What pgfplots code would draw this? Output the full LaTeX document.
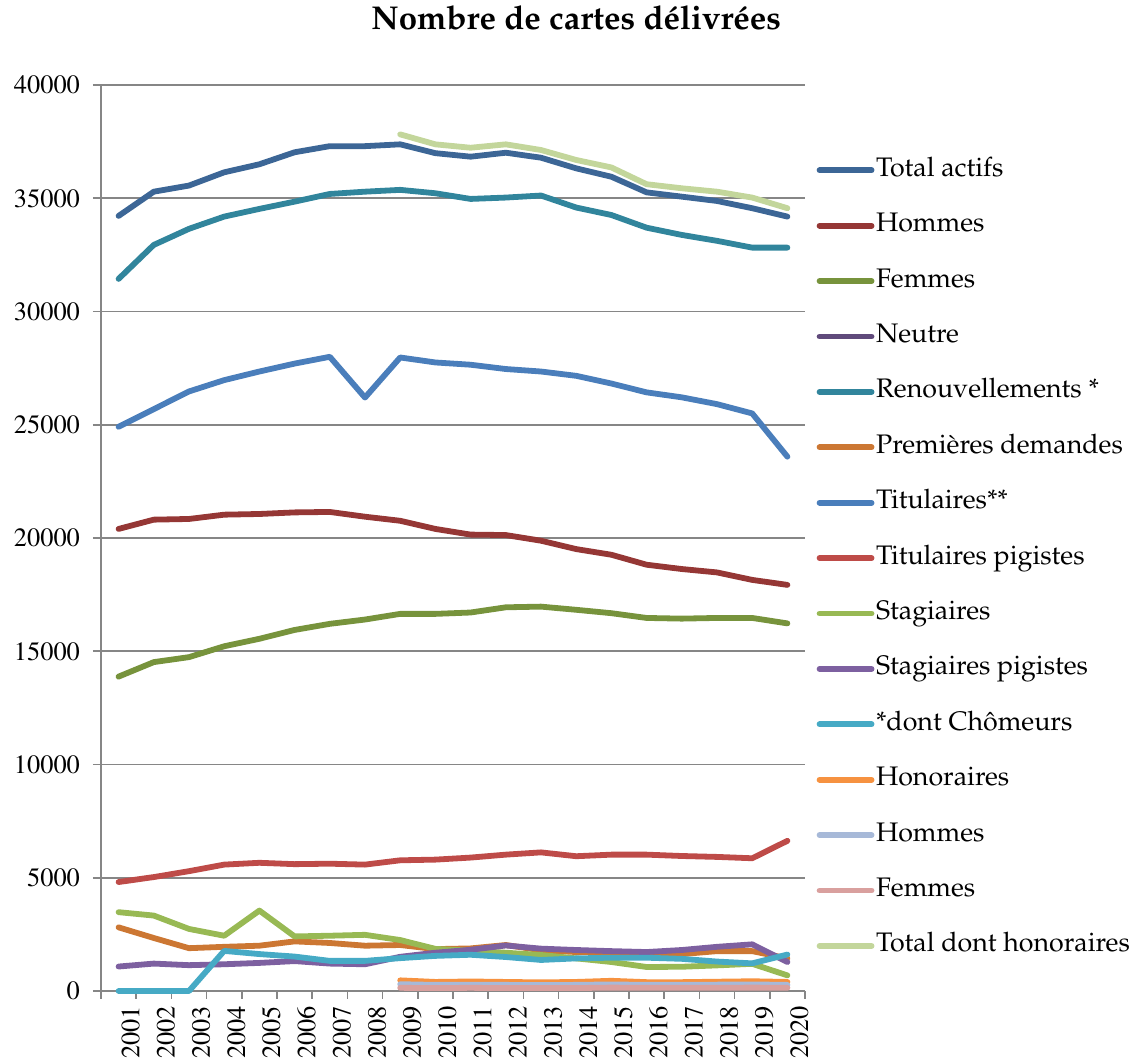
\documentclass[border=0pt]{standalone}
\usepackage[T1]{fontenc}
\usepackage{mathpazo}
\usepackage{pgfplots}
\usepackage{pgfplotstable}
\pgfplotsset{compat=1.18}

\definecolor{cta}{HTML}{3C6696}
\definecolor{cho}{HTML}{953735}
\definecolor{cfe}{HTML}{77933C}
\definecolor{cne}{HTML}{604A7B}
\definecolor{cre}{HTML}{31859C}
\definecolor{cpd}{HTML}{CC7733}
\definecolor{cti}{HTML}{4A7EBB}
\definecolor{ctp}{HTML}{BE4B48}
\definecolor{cst}{HTML}{98B954}
\definecolor{csp}{HTML}{7D60A0}
\definecolor{cch}{HTML}{46AAC5}
\definecolor{chn}{HTML}{F69240}
\definecolor{chh}{HTML}{A7B9D8}
\definecolor{chf}{HTML}{D9A09E}
\definecolor{ctd}{HTML}{C3D69B}
\definecolor{grille}{HTML}{868686}

% annees 2001..2020 en 1..20
\pgfplotstableread{
x  ta    ho    fe    re    pd   ti    tp   st   sp   ch   hn  hh  hf  td
1  34220 20400 13880 31440 2810 24910 4810 3480 1080 0    nan nan nan nan
2  35290 20810 14520 32940 2340 25690 5030 3330 1210 0    nan nan nan nan
3  35560 20840 14740 33650 1890 26470 5290 2740 1140 0    nan nan nan nan
4  36145 21030 15220 34190 1950 26970 5580 2440 1180 1770 nan nan nan nan
5  36500 21060 15550 34530 2000 27350 5660 3550 1240 1630 nan nan nan nan
6  37030 21130 15940 34850 2190 27700 5600 2410 1320 1520 nan nan nan nan
7  37300 21150 16210 35190 2120 28000 5620 2440 1210 1330 nan nan nan nan
8  37300 20940 16400 35290 2000 26200 5580 2480 1180 1330 nan nan nan nan
9  37380 20760 16650 35370 2030 27970 5770 2250 1510 1450 470 300 140 37820
10 36990 20400 16650 35220 1850 27750 5800 1860 1690 1550 400 270 130 37380
11 36835 20150 16710 34970 1880 27650 5890 1780 1820 1600 420 280 140 37230
12 37010 20130 16940 35030 2030 27460 6020 1690 2010 1500 400 270 130 37380
13 36790 19880 16970 35120 1800 27350 6120 1590 1870 1370 380 260 130 37130
14 36320 19510 16830 34590 1720 27160 5950 1440 1810 1440 400 270 130 36690
15 35950 19260 16680 34260 1720 26820 6020 1280 1760 1470 450 290 150 36360
16 35260 18820 16470 33700 1690 26430 6020 1060 1720 1470 390 270 140 35620
17 35070 18630 16440 33380 1630 26210 5960 1070 1810 1420 390 270 140 35440
18 34880 18480 16470 33120 1760 25910 5920 1130 1950 1300 410 280 140 35290
19 34560 18150 16470 32820 1760 25500 5860 1200 2060 1220 430 290 150 35030
20 34190 17930 16230 32820 1440 23590 6630 690  1280 1610 400 270 140 34560
}\cartes

\newcommand{\tickfont}{\fontfamily{ptm}\selectfont\fontsize{13.2}{13.2}\selectfont}

\begin{document}
\begin{tikzpicture}
\useasboundingbox (-50.5pt,-35pt) rectangle (515.5pt,495.5pt);
\begin{axis}[
    at={(0,0)}, anchor=south west,
    scale only axis,
    width=352pt, height=453pt,
    xmin=0.5, xmax=20.5,
    ymin=0, ymax=40000,
    clip=false,
    axis lines*=left,
    axis line style={grille, line width=0.8pt},
    ytick={0,5000,...,40000},
    scaled y ticks=false,
    ymajorgrids,
    major grid style={grille, line width=0.8pt},
    xtick={1,...,20},
    xticklabels={2001,2002,2003,2004,2005,2006,2007,2008,2009,2010,2011,2012,2013,2014,2015,2016,2017,2018,2019,2020},
    minor xtick={0.5,1.5,...,20.5},
    major x tick style={draw=none},
    minor x tick style={grille, line width=0.8pt},
    y tick style={grille, line width=0.8pt},
    tick align=outside,
    major tick length=4pt, minor tick length=4pt,
    /pgf/number format/.cd, 1000 sep={}, assume math mode=true,
    /pgfplots/.cd,
    yticklabel style={font=\tickfont, anchor=east, xshift=-3pt},
    xticklabel style={font=\tickfont, rotate=90, anchor=east, yshift=-6pt},
    title={Nombre de cartes délivrées},
    title style={at={(axis description cs:0.675,1.061)}, anchor=center, font=\bfseries\fontsize{16.5}{18}\selectfont},
    every axis plot/.append style={line width=2.9pt, line join=round, line cap=round, no markers},
    legend image code/.code={\draw[#1] (0pt,0pt) -- (26pt,0pt);},
    legend cell align=left,
    legend style={at={(axis description cs:1.016,0.9195)}, anchor=north west, draw=none, fill=none,
        inner sep=0pt, row sep=15.7pt, column sep=0pt,
        font=\fontsize{13.4}{14}\selectfont,
        nodes={inner xsep=0.8pt, inner ysep=0pt, text height=9pt, text depth=3pt}},
]
\addplot[cta] table[x=x, y=ta] {\cartes};
\addlegendentry{Total actifs}
\addplot[cho] table[x=x, y=ho] {\cartes};
\addlegendentry{Hommes}
\addplot[cfe] table[x=x, y=fe] {\cartes};
\addlegendentry{Femmes}
\addlegendimage{cne, line width=2.9pt, line cap=round}
\addlegendentry{Neutre}
\addplot[cre] table[x=x, y=re] {\cartes};
\addlegendentry{Renouvellements *}
\addplot[cpd] table[x=x, y=pd] {\cartes};
\addlegendentry{Premières demandes}
\addplot[cti] table[x=x, y=ti] {\cartes};
\addlegendentry{Titulaires**}
\addplot[ctp] table[x=x, y=tp] {\cartes};
\addlegendentry{Titulaires pigistes}
\addplot[cst] table[x=x, y=st] {\cartes};
\addlegendentry{Stagiaires}
\addplot[csp] table[x=x, y=sp] {\cartes};
\addlegendentry{Stagiaires pigistes}
\addplot[cch] table[x=x, y=ch] {\cartes};
\addlegendentry{*dont Chômeurs}
\addplot[chn] table[x=x, y=hn] {\cartes};
\addlegendentry{Honoraires}
\addplot[chh] table[x=x, y=hh] {\cartes};
\addlegendentry{Hommes}
\addplot[chf] table[x=x, y=hf] {\cartes};
\addlegendentry{Femmes}
\addplot[ctd] table[x=x, y=td] {\cartes};
\addlegendentry{Total dont honoraires}
\end{axis}
\end{tikzpicture}
\end{document}
